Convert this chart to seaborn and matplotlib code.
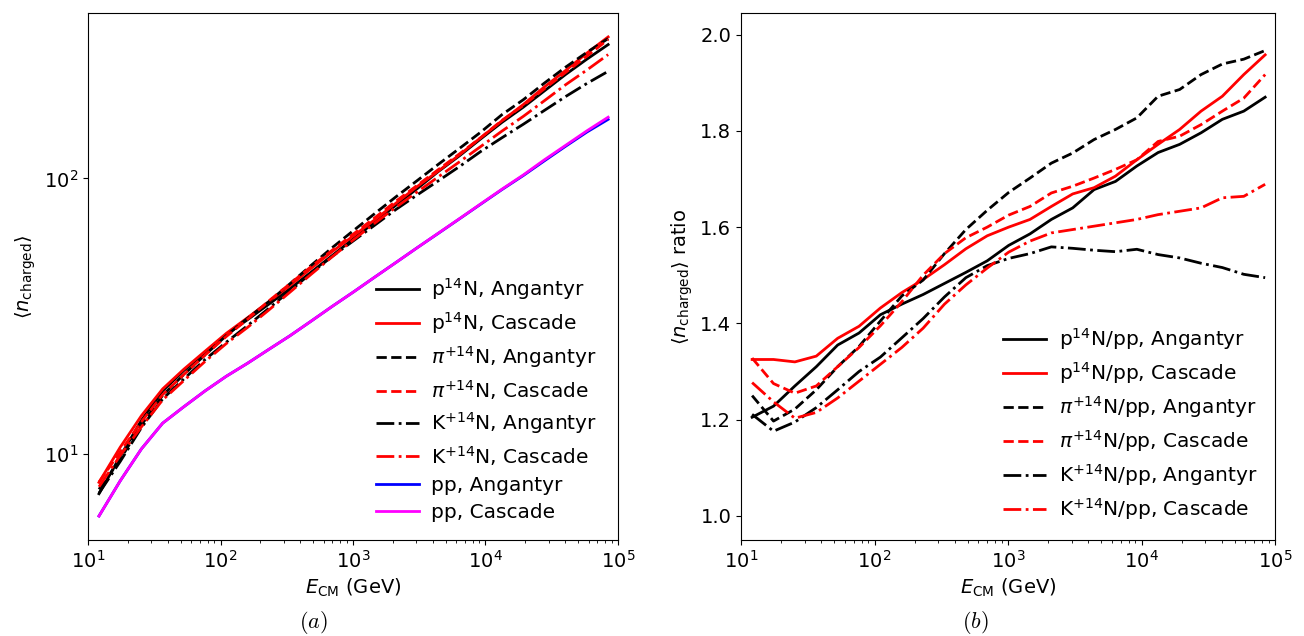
import numpy as np
import seaborn as sns
import matplotlib.pyplot as plt
from matplotlib.ticker import NullLocator

plt.switch_backend('agg')

# centre-of-mass energies (GeV)
energy = [12.1, 17.5, 25.3, 36.6, 52.9, 76.5, 110.6, 160, 231, 334, 483, 698, 1010,
          1460, 2110, 3050, 4410, 6380, 9220, 13300, 19300, 27900, 40300, 58300, 84300]

# pp multiplicities
pp_angantyr = [5.93, 7.96, 10.4, 12.9, 14.8, 16.9, 19.1, 21.3, 23.9, 26.8, 30.3, 34.3, 38.7,
               43.8, 49.5, 56.0, 63.2, 71.4, 80.7, 91.1, 102.5, 116, 131, 147.5, 164]
pp_cascade = [5.93, 7.96, 10.4, 12.9, 14.8, 16.9, 19.1, 21.3, 23.9, 26.8, 30.3, 34.3, 38.7,
              43.8, 49.5, 56.0, 63.3, 71.5, 80.9, 91.4, 103, 117, 132, 149, 167]

# ratios to pp
ratio_p_angantyr = [1.205, 1.228, 1.27, 1.31, 1.355, 1.38, 1.418, 1.44, 1.46, 1.483, 1.506, 1.53,
                    1.562, 1.586, 1.616, 1.64, 1.678, 1.695, 1.727, 1.755, 1.772, 1.796, 1.824,
                    1.841, 1.87]
ratio_p_cascade = [1.325, 1.325, 1.32, 1.332, 1.369, 1.394, 1.432, 1.464, 1.491, 1.522, 1.555,
                   1.582, 1.60, 1.616, 1.643, 1.669, 1.682, 1.706, 1.74, 1.772, 1.803, 1.841,
                   1.872, 1.917, 1.958]
ratio_pi_angantyr = [1.25, 1.197, 1.222, 1.262, 1.31, 1.352, 1.405, 1.457, 1.49, 1.545, 1.595,
                     1.635, 1.672, 1.702, 1.733, 1.754, 1.782, 1.803, 1.827, 1.872, 1.886, 1.917,
                     1.939, 1.949, 1.967]
ratio_pi_cascade = [1.328, 1.275, 1.255, 1.27, 1.31, 1.35, 1.395, 1.445, 1.50, 1.545, 1.578,
                    1.60, 1.625, 1.643, 1.671, 1.685, 1.702, 1.72, 1.74, 1.778, 1.789, 1.813,
                    1.841, 1.868, 1.917]
ratio_k_angantyr = [1.211, 1.176, 1.195, 1.225, 1.262, 1.30, 1.33, 1.37, 1.41, 1.455, 1.495,
                    1.52, 1.535, 1.545, 1.559, 1.556, 1.552, 1.549, 1.554, 1.543, 1.536, 1.525,
                    1.516, 1.502, 1.495]
ratio_k_cascade = [1.277, 1.237, 1.203, 1.215, 1.245, 1.28, 1.315, 1.35, 1.39, 1.44, 1.48,
                   1.515, 1.548, 1.571, 1.588, 1.595, 1.602, 1.609, 1.616, 1.626, 1.633, 1.64,
                   1.661, 1.664, 1.689]

# (ratio, pp reference, colour, linestyle, label in (a), label in (b))
series = [
    (ratio_p_angantyr, pp_angantyr, "black", "-", r"p$^{14}$N, Angantyr", r"p$^{14}$N/pp, Angantyr"),
    (ratio_p_cascade, pp_cascade, "red", "-", r"p$^{14}$N, Cascade", r"p$^{14}$N/pp, Cascade"),
    (ratio_pi_angantyr, pp_angantyr, "black", "--", r"$\pi^{+14}$N, Angantyr", r"$\pi^{+14}$N/pp, Angantyr"),
    (ratio_pi_cascade, pp_cascade, "red", "--", r"$\pi^{+14}$N, Cascade", r"$\pi^{+14}$N/pp, Cascade"),
    (ratio_k_angantyr, pp_angantyr, "black", "-.", r"K$^{+14}$N, Angantyr", r"K$^{+14}$N/pp, Angantyr"),
    (ratio_k_cascade, pp_cascade, "red", "-.", r"K$^{+14}$N, Cascade", r"K$^{+14}$N/pp, Cascade"),
]

plt.rcParams['font.size'] = 14
LW = 2.0

fig = plt.figure(figsize=(13.04, 6.36), dpi=100)
ax1 = fig.add_axes([0.0675, 0.151, 0.4064, 0.8286])
ax2 = fig.add_axes([0.5683, 0.151, 0.4095, 0.8286])

E = np.array(energy)
for ratio, pp, color, ls, label_a, label_b in series:
    n = np.array(ratio) * np.array(pp)
    sns.lineplot(x=E, y=n, ax=ax1, color=color, linestyle=ls, label=label_a, lw=LW)
    sns.lineplot(x=E, y=ratio, ax=ax2, color=color, linestyle=ls, label=label_b, lw=LW)

sns.lineplot(x=E, y=pp_angantyr, ax=ax1, color="blue", label="pp, Angantyr", lw=LW)
sns.lineplot(x=E, y=pp_cascade, ax=ax1, color="magenta", label="pp, Cascade", lw=LW)

for ax in (ax1, ax2):
    ax.set_xscale('log')
    ax.set_xlim(10, 1e5)
    ax.set_xlabel(r"$E_{\mathrm{CM}}$ (GeV)")

legend_opts = dict(loc="lower right", frameon=False, handlelength=2.15, handletextpad=0.6,
                   labelspacing=0.4, fontsize=14.5)
ax1.legend(bbox_to_anchor=(0.995, 0), **legend_opts)
ax2.legend(**legend_opts)

ax1.set_yscale('log')
ax1.yaxis.set_minor_locator(NullLocator())
ax1.set_ylabel(r"$\langle n_{\mathrm{charged}}\rangle$")

ax2.set_ylim(0.95, 2.045)
ax2.set_yticks([1.0, 1.2, 1.4, 1.6, 1.8, 2.0])
ax2.set_ylabel(r"$\langle n_{\mathrm{charged}}\rangle$ ratio")

fig.text(313 / 1304, 1 - 622 / 636, r"$(a)$", ha="center", va="center", fontsize=16, math_fontfamily="cm")
fig.text(975 / 1304, 1 - 622 / 636, r"$(b)$", ha="center", va="center", fontsize=16, math_fontfamily="cm")

fig.savefig("out.png", dpi=100)
